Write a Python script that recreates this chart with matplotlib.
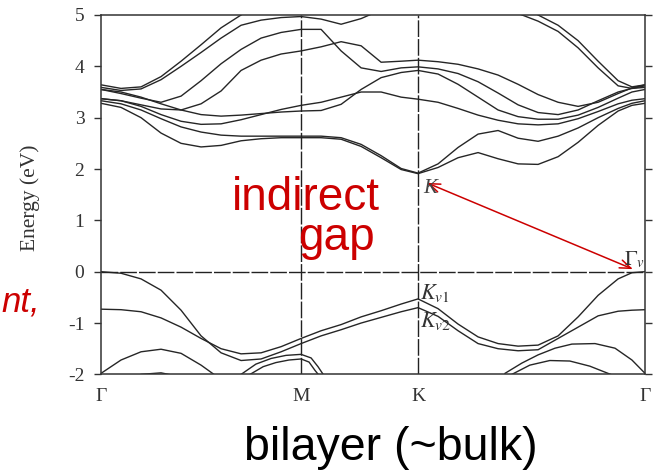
import numpy as np
import matplotlib
matplotlib.use("Agg")
import matplotlib.pyplot as plt

plt.rcParams['font.family'] = ['Liberation Serif', 'DejaVu Serif']
plt.rcParams['axes.unicode_minus'] = False
plt.rcParams['mathtext.fontset'] = 'stix'

nan = np.nan

# k-path Gamma - M - K - Gamma
k = [0.000, 0.058, 0.116, 0.174, 0.232, 0.290, 0.348, 0.406, 0.464, 0.522, 0.580,
     0.638, 0.696, 0.754, 0.812, 0.870, 0.919,
     0.977, 1.035, 1.093, 1.151, 1.209, 1.267, 1.325, 1.383, 1.441, 1.499, 1.539, 1.577]
k_ticks = [0.0, 0.580, 0.919, 1.577]
k_labels = ['Γ', 'M', 'K', 'Γ']

# conduction bands (eV)
c1 = [3.28, 3.20, 3.00, 2.70, 2.50, 2.43, 2.46, 2.55, 2.59, 2.61, 2.61,
      2.61, 2.58, 2.44, 2.22, 1.99, 1.91,
      2.03, 2.22, 2.32, 2.20, 2.10, 2.09, 2.24, 2.52, 2.85, 3.13, 3.24, 3.28]
c2 = [3.33, 3.27, 3.15, 2.98, 2.82, 2.72, 2.66, 2.64, 2.64, 2.64, 2.64,
      2.64, 2.61, 2.48, 2.26, 2.01, 1.92,
      2.10, 2.42, 2.68, 2.75, 2.60, 2.54, 2.64, 2.80, 3.00, 3.18, 3.28, 3.33]
c3 = [3.37, 3.33, 3.22, 3.06, 2.93, 2.87, 2.88, 2.96, 3.06, 3.16, 3.24,
      3.30, 3.40, 3.50, 3.50, 3.40, 3.36,
      3.30, 3.18, 3.05, 2.95, 2.88, 2.86, 2.88, 2.98, 3.12, 3.27, 3.34, 3.37]
c4 = [3.55, 3.50, 3.40, 3.27, 3.15, 3.06, 3.03, 3.05, 3.08, 3.11, 3.13,
      3.14, 3.26, 3.55, 3.78, 3.88, 3.92,
      3.85, 3.65, 3.40, 3.15, 3.02, 2.97, 2.97, 3.05, 3.20, 3.38, 3.50, 3.55]
c5 = [3.37, 3.33, 3.25, 3.17, 3.15, 3.27, 3.52, 3.92, 4.12, 4.24, 4.30,
      4.38, 4.48, 4.40, 4.08, 4.10, 4.12,
      4.09, 4.04, 3.95, 3.83, 3.65, 3.45, 3.30, 3.22, 3.30, 3.47, 3.58, 3.64]
c6 = [3.55, 3.47, 3.38, 3.30, 3.42, 3.72, 4.05, 4.33, 4.55, 4.66, 4.72,
      4.72, 4.30, 3.97, 3.90, 3.97, 3.99,
      3.95, 3.86, 3.70, 3.48, 3.25, 3.10, 3.06, 3.15, 3.33, 3.50, 3.57, 3.59]
t1 = [3.64, 3.57, 3.60, 3.80, 4.10, 4.42, 4.75, 5.00, 5.25, nan, nan,
      nan, nan, nan, nan, nan, nan,
      nan, nan, nan, nan, nan, nan, nan, nan, nan, nan, nan, nan]
t2 = [3.59, 3.53, 3.56, 3.74, 4.00, 4.27, 4.55, 4.80, 4.90, 4.95, 4.97,
      4.92, 4.82, 4.93, 5.10, nan, nan,
      nan, nan, nan, nan, nan, nan, nan, nan, nan, nan, nan, nan]
t3 = [nan, nan, nan, nan, nan, nan, nan, nan, nan, nan, nan,
      nan, nan, nan, nan, nan, nan,
      nan, nan, nan, 5.25, 5.03, 4.88, 4.68, 4.36, 3.97, 3.62, 3.57, 3.62]
t4 = [nan, nan, nan, nan, nan, nan, nan, nan, nan, nan, nan,
      nan, nan, nan, nan, nan, nan,
      nan, nan, nan, nan, 5.22, 5.00, 4.80, 4.50, 4.10, 3.72, 3.60, 3.64]

# valence bands (eV)
vA = [0.00, -0.03, -0.14, -0.36, -0.75, -1.25, -1.58, -1.73, -1.70, -1.56, -1.40,
      -1.25, -1.13, -1.00, -0.89, -0.78, -0.70,
      -0.87, -1.15, -1.40, -1.50, -1.54, -1.52, -1.30, -1.08, -0.86, -0.77, -0.75, -0.74]
vB = [-0.73, -0.74, -0.78, -0.90, -1.08, -1.30, -1.50, -1.60, -1.58, -1.46, -1.30,
      -1.15, -1.03, -0.88, -0.76, -0.63, -0.53,
      -0.72, -1.02, -1.27, -1.40, -1.45, -1.43, -1.25, -0.88, -0.46, -0.14, -0.02, 0.00]
vC = [-1.98, -1.72, -1.56, -1.51, -1.59, -1.82, -2.10, nan, nan, nan, nan,
      nan, nan, nan, nan, nan, nan,
      nan, nan, nan, nan, nan, nan, nan, nan, nan, nan, nan, nan]
vD = [nan, -2.15, -2.00, -1.97, -2.05, nan, nan, nan, nan, nan, nan,
      nan, nan, nan, nan, nan, nan,
      nan, nan, nan, nan, nan, nan, nan, nan, nan, nan, nan, nan]

# partial bands near the bottom edge
vE_k = [0.406, 0.449, 0.493, 0.536, 0.580, 0.609, 0.629, 0.646]
vE = [-2.00, -1.80, -1.69, -1.63, -1.61, -1.68, -1.85, -2.02]
vF_k = [0.432, 0.470, 0.507, 0.545, 0.580, 0.603, 0.620, 0.632]
vF = [-2.00, -1.85, -1.77, -1.72, -1.70, -1.76, -1.92, -2.02]
vG_k = [1.171, 1.220, 1.267, 1.316, 1.365, 1.432, 1.490, 1.539, 1.577]
vG = [-1.98, -1.78, -1.62, -1.49, -1.41, -1.40, -1.49, -1.72, -1.98]
vH_k = [1.191, 1.243, 1.301, 1.359, 1.417, 1.481]
vH = [-2.00, -1.82, -1.73, -1.74, -1.84, -2.01]

y_ticks = [-2, -1, 0, 1, 2, 3, 4, 5]

red = '#cc0000'
fig = plt.figure(figsize=(6.53, 4.73), dpi=100)
ax = fig.add_axes([0.1547, 0.2085, 0.8331, 0.7598])

for e in [c1, c2, c3, c4, c5, c6, t1, t2, t3, t4, vA, vB, vC, vD]:
    ax.plot(k, e, color='#262626', lw=1.0)
for kk, e in [(vE_k, vE), (vF_k, vF), (vG_k, vG), (vH_k, vH)]:
    ax.plot(kk, e, color='#262626', lw=1.0)

ax.axhline(0, color='#222222', lw=1.0, dashes=(12, 1.5))
for kt in k_ticks[1:3]:
    ax.axvline(kt, color='#222222', lw=1.0, dashes=(12, 1.5))

ax.set_xlim(k_ticks[0], k_ticks[-1])
ax.set_ylim(-2, 5)
ax.set_xticks(k_ticks)
ax.set_xticklabels(k_labels)
ax.set_yticks(y_ticks)
ax.tick_params(axis='y', direction='out', length=5, width=1, labelsize=14,
               pad=7, right=True, colors='#333333')
ax.tick_params(axis='x', length=0, labelsize=14, pad=10, colors='#333333')
for s in ax.spines.values():
    s.set_linewidth(1.1)
    s.set_color('#333333')

fig.text(30 / 653, 1 - 198 / 473, 'Energy (eV)', rotation=90, ha='center',
         va='center', fontsize=15.5, color='#333333')

# band-edge labels
fig.text(423 / 653, 1 - 193 / 473, 'K', style='italic', fontsize=15, color='#444444')
fig.text(624 / 653, 1 - 265 / 473, r'$\Gamma_v$', fontsize=15, color='#333333')
fig.text(420 / 653, 1 - 299 / 473, r'$K_{v\mathit{1}}$', fontsize=16, color='#333333')
fig.text(420 / 653, 1 - 327 / 473, r'$K_{v\mathit{2}}$', fontsize=16, color='#333333')

ax.annotate('', xy=(0.945, 1.73), xytext=(1.542, 0.05),
            arrowprops=dict(arrowstyle='<->,head_length=0.8,head_width=0.3',
                            color=red, lw=1.1, shrinkA=0, shrinkB=0),
            annotation_clip=False)

fig.text(380 / 653, 1 - 210 / 473, 'indirect', ha='right', va='baseline',
         fontsize=33, color=red, family='Liberation Sans')
fig.text(375 / 653, 1 - 250 / 473, 'gap', ha='right', va='baseline',
         fontsize=33, color=red, family='Liberation Sans')
fig.text(1 / 653, 1 - 311 / 473, 'nt,', ha='left', va='baseline',
         fontsize=25, style='italic', color=red, family='Liberation Sans')
fig.text(391 / 653, 1 - 460 / 473, 'bilayer (~bulk)', ha='center', va='baseline',
         fontsize=33.5, color='black', family='Liberation Sans')

fig.savefig('out.png', dpi=100)
